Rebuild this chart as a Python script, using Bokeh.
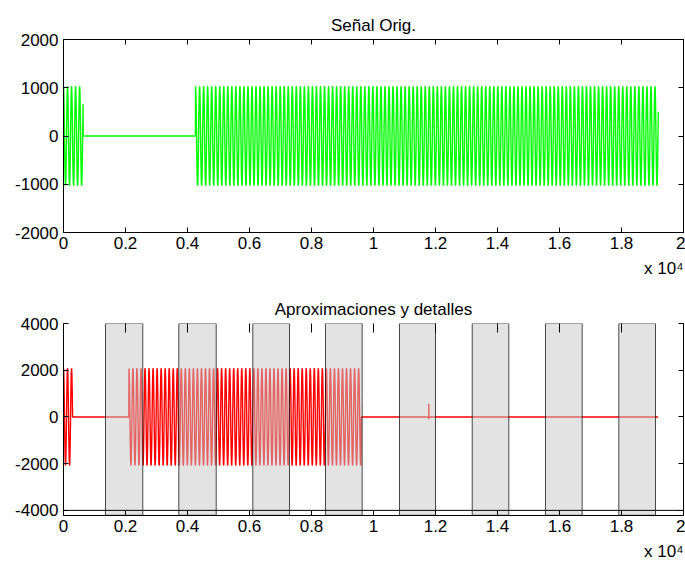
import numpy as np
from bokeh.plotting import figure
from bokeh.layouts import column
from bokeh.models import Range1d, LinearAxis, FixedTicker, Title, Span
from bokeh.embed import file_html
from bokeh.resources import INLINE

FONT = "Liberation Sans"
FS = "17px"

# ---- axis ticks ----
x_ticks = [0, 2000, 4000, 6000, 8000, 10000, 12000, 14000, 16000, 18000, 20000]
x_tick_labels = ["0", "0.2", "0.4", "0.6", "0.8", "1", "1.2", "1.4", "1.6", "1.8", "2"]
orig_y_ticks = [-2000, -1000, 0, 1000, 2000]
coef_y_ticks = [-4000, -2000, 0, 2000, 4000]

# ---- top panel: "Señal Orig." (bursts) ----
orig_burst_start = [0, 4260]
orig_burst_end = [635, 19190]
orig_length = 19190
orig_amp = 1030
orig_period = 130

# ---- bottom panel: "Aproximaciones y detalles" ----
coef_burst_start = [0, 2110]
coef_burst_end = [290, 9600]
coef_length = 19180
coef_amp = 2080
coef_period = 130
spike_x = 11784
spike_hi = 560
spike_lo = -100

band_left = [1355, 3719, 6106, 8452, 10839, 13184, 15548, 17913]
band_right = [2558, 4926, 7290, 9635, 12000, 14365, 16732, 19097]
band_bottom = -4210
band_top = 4000


def burst_signal(length, starts, ends, amp, period, step=4):
    t = np.arange(0, length + 1, step, dtype=float)
    y = np.zeros_like(t)
    for s, e in zip(starts, ends):
        m = (t >= s) & (t <= e)
        y[m] = amp * np.sin(2 * np.pi * (t[m] - s) / period + np.pi / 2)
    return t, y


def hidden_axis(ticks):
    return LinearAxis(ticker=FixedTicker(ticks=ticks), major_label_text_font_size="1px",
                      major_label_text_color=None, major_tick_in=5, major_tick_out=0,
                      minor_tick_line_color=None, major_label_standoff=0,
                      axis_line_color="black", major_tick_line_color="black")


def style(p, y_ticks):
    p.title.text_font = FONT
    p.title.text_font_size = FS
    p.title.text_font_style = "normal"
    p.title.align = "center"
    p.title.text_color = "black"
    p.xaxis.ticker = FixedTicker(ticks=x_ticks)
    p.xaxis.major_label_overrides = {t: l for t, l in zip(x_ticks, x_tick_labels)}
    p.yaxis.ticker = FixedTicker(ticks=y_ticks)
    p.yaxis.major_label_overrides = {t: str(t) for t in y_ticks}
    for ax in p.xaxis + p.yaxis:
        ax.major_label_text_font = FONT
        ax.major_label_text_font_size = FS
        ax.major_label_text_color = "black"
        ax.major_tick_in = 5
        ax.major_tick_out = 0
        ax.minor_tick_line_color = None
        ax.axis_line_color = "black"
        ax.major_tick_line_color = "black"
        ax.major_label_standoff = 4
    p.yaxis.major_label_standoff = 5
    p.xgrid.visible = False
    p.ygrid.visible = False
    p.add_layout(hidden_axis(y_ticks), "right")
    p.add_layout(hidden_axis(x_ticks), "above")
    p.add_layout(Title(text="x 10\u2074", align="right", text_font=FONT, text_font_size=FS,
                       text_font_style="normal", text_color="black"), "below")


# ---------------- top figure ----------------
p1 = figure(width=685, height=290, output_backend="svg", toolbar_location=None,
            title="Señal Orig.", x_range=Range1d(0, 20000), y_range=Range1d(-2000, 2000),
            min_border_left=63, min_border_right=2, min_border_top=39, min_border_bottom=58)
p1.outline_line_color = "black"
t1, y1 = burst_signal(orig_length, orig_burst_start, orig_burst_end, orig_amp, orig_period)
p1.line(t1, y1, color="#00ff00", line_width=1.4)
style(p1, orig_y_ticks)

# ---------------- bottom figure ----------------
p2 = figure(width=685, height=275, output_backend="svg", toolbar_location=None,
            title="Aproximaciones y detalles", x_range=Range1d(0, 20000),
            y_range=Range1d(band_bottom - 10, 4000),
            min_border_left=63, min_border_right=2, min_border_top=33, min_border_bottom=47)
p2.outline_line_color = None
t2, y2 = burst_signal(coef_length, coef_burst_start, coef_burst_end, coef_amp, coef_period)
k = np.searchsorted(t2, spike_x)
t2 = np.concatenate([t2[:k], [spike_x, spike_x, spike_x, spike_x], t2[k:]])
y2 = np.concatenate([y2[:k], [0, spike_hi, spike_lo, 0], y2[k:]])
p2.line(t2, y2, color="#ff0000", line_width=1.4)
p2.quad(left=band_left, right=band_right, bottom=band_bottom, top=band_top,
        fill_color="#c8c8c8", fill_alpha=0.5, line_color="black", line_alpha=0.7, line_width=1)
p2.add_layout(Span(location=-4000, dimension="width", line_color="black", line_width=1))
style(p2, coef_y_ticks)
p2.xaxis[0].axis_line_color = None
p2.xaxis[0].major_tick_in = 9

layout = column(p1, p2)
open("out.html", "w").write(file_html(layout, INLINE))
